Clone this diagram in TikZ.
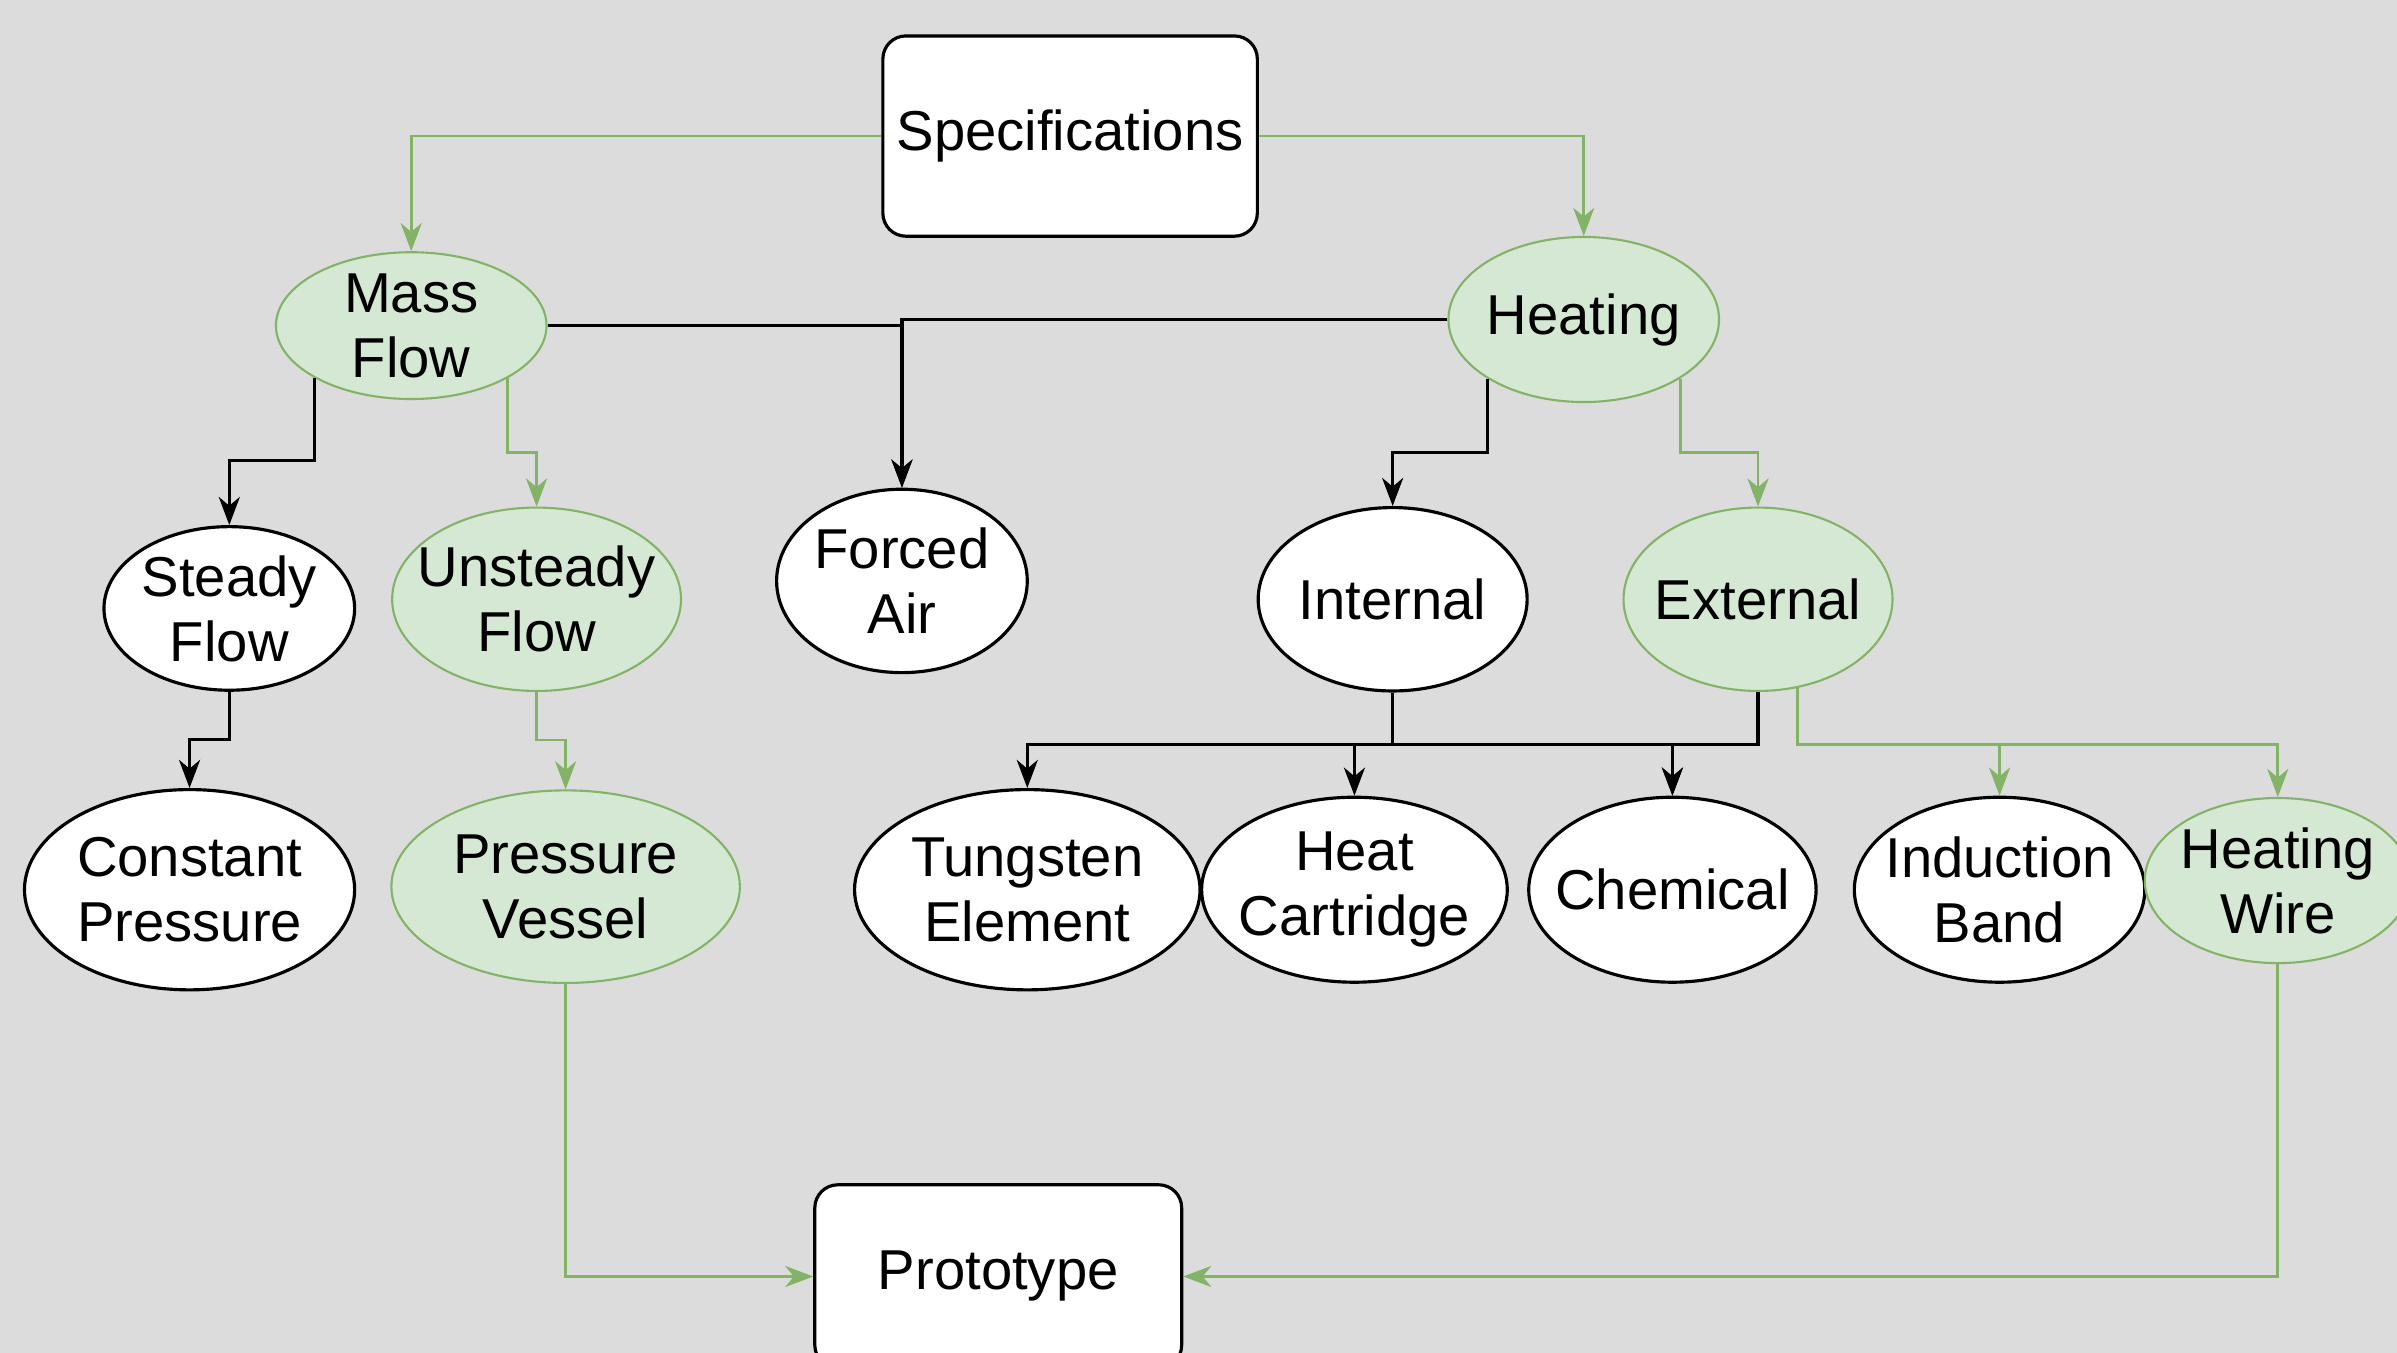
\documentclass[tikz,border=0pt]{standalone}
\usepackage{fontspec}
\setmainfont{Liberation Sans}
\usetikzlibrary{shapes, arrows.meta, positioning, calc}
\definecolor{leafgreen}{RGB}{130,179,102}
\definecolor{leaffill}{RGB}{213,232,212}
\definecolor{canvasgray}{RGB}{220,220,220}

\tikzset{
  stage/.style={draw=black, fill=white, rounded corners=0.23cm, line width=0.9pt, inner sep=0pt},
  option/.style={ellipse, draw=black, fill=white, line width=0.9pt, inner xsep=-0.6cm, inner ysep=-0.4cm},
  picked/.style={option, draw=leafgreen, fill=leaffill, line width=0.6pt},
  link/.style={draw=black, line width=0.9pt, -{Stealth[length=8pt, width=6pt, inset=2.5pt]}},
  greenlink/.style={link, draw=leafgreen, line width=0.8pt},
}

\begin{document}
\begin{tikzpicture}[x=0.015287cm, y=-0.015287cm,
  every node/.style={font=\fontsize{16}{18.5}\selectfont, align=center}]
  \useasboundingbox (0,0) rectangle (1568,885);
  \fill[canvasgray] (0,0) rectangle (1568,885);

  % top and bottom boxes
  \node[stage, minimum width=3.745cm, minimum height=2.003cm] (spec) at (700,89) {Specifications};
  \node[stage, minimum width=3.669cm, minimum height=1.834cm] (proto) at (653,835) {Prototype};

  % first level
  \node[picked, minimum width=2.706cm, minimum height=1.468cm] (mass) at (269,213) {Mass\\Flow};
  \node[picked, minimum width=2.706cm, minimum height=1.651cm] (heat) at (1036,209) {Heating};

  % second level
  \node[option, minimum width=2.507cm, minimum height=1.636cm] (steady) at (150,398) {Steady\\Flow};
  \node[picked, minimum width=2.889cm, minimum height=1.834cm] (unsteady) at (351,392) {Unsteady\\Flow};
  \node[option, minimum width=2.507cm, minimum height=1.834cm] (forced) at (590,380) {Forced\\Air};
  \node[option, minimum width=2.690cm, minimum height=1.834cm] (internal) at (911,392) {Internal};
  \node[picked, minimum width=2.690cm, minimum height=1.834cm] (external) at (1150,392) {External};

  % third level
  \node[option, minimum width=3.302cm, minimum height=2.003cm] (constant) at (124,582) {Constant\\Pressure};
  \node[picked, minimum width=3.485cm, minimum height=1.926cm] (vessel) at (370,580) {Pressure\\Vessel};
  \node[option, minimum width=3.455cm, minimum height=2.003cm] (tungsten) at (672,582) {Tungsten\\Element};
  \node[option, minimum width=3.057cm, minimum height=1.850cm] (cartridge) at (886,582) {Heat\\Cartridge};
  \node[option, minimum width=2.874cm, minimum height=1.850cm] (chemical) at (1094,582) {Chemical};
  \node[option, minimum width=2.905cm, minimum height=1.850cm] (induction) at (1308,582) {Induction\\Band};
  \node[picked, minimum width=2.660cm, minimum height=1.651cm] (wire) at (1490,576) {Heating\\Wire};

  % connectors
  \draw[greenlink] (spec.west) -| (mass.north);
  \draw[greenlink] (spec.east) -| (heat.north);
  \draw[link] (mass.east) -| (forced.north);
  \draw[link] (heat.west) -| (forced.north);
  \draw[link] (mass.south west) -- (mass.south west |- 0,301) -| (steady.north);
  \draw[greenlink] (mass.south east) -- (mass.south east |- 0,296) -| (unsteady.north);
  \draw[link] (heat.south west) -- (heat.south west |- 0,296) -| (internal.north);
  \draw[greenlink] (heat.south east) -- (heat.south east |- 0,296) -| (external.north);
  \draw[link] (steady.south) -- (steady.south |- 0,484) -| (constant.north);
  \draw[greenlink] (unsteady.south) -- (unsteady.south |- 0,484) -| (vessel.north);
  \draw[link] (internal.south) -- (internal.south |- 0,487) -| (tungsten.north);
  \draw[link] (internal.south) -- (internal.south |- 0,487) -| (cartridge.north);
  \draw[link] (internal.south) -- (internal.south |- 0,487) -| (chemical.north);
  \draw[link] (external.south) -- (external.south |- 0,487) -| (chemical.north);
  \draw[greenlink] (external.-66) -- (external.-66 |- 0,487) -| (induction.north);
  \draw[greenlink] (external.-66) -- (external.-66 |- 0,487) -| (wire.north);
  \draw[greenlink] (vessel.south) |- (proto.west);
  \draw[greenlink] (wire.south) |- (proto.east);
\end{tikzpicture}
\end{document}
